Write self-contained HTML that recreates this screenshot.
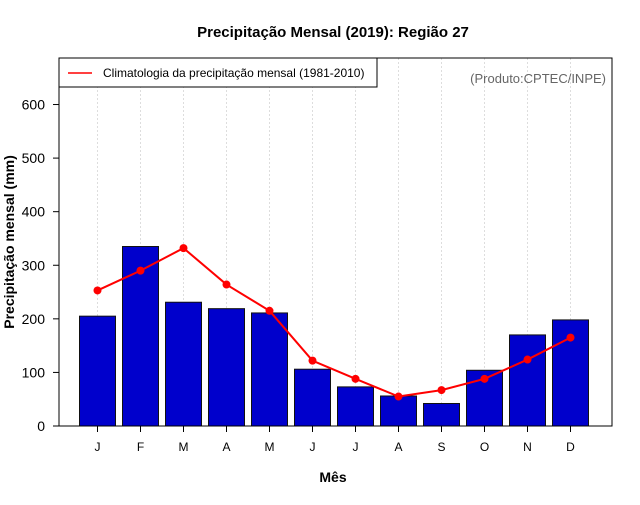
<!DOCTYPE html>
<html><head><meta charset="utf-8"><style>
body{margin:0;background:#fff;}
svg text{font-family:"Liberation Sans",sans-serif;}
</style></head><body>
<svg id="c" width="640" height="500" xmlns="http://www.w3.org/2000/svg">
<text x="333" y="37" text-anchor="middle" font-size="15" font-weight="bold">Precipitação Mensal (2019): Região 27</text>
<text x="333" y="482" text-anchor="middle" font-size="14" font-weight="bold">Mês</text>
<text transform="translate(14,242) rotate(-90)" text-anchor="middle" font-size="14" font-weight="bold">Precipitação mensal (mm)</text>
<g id="grid"></g><g id="bars"></g><g id="line"></g><g id="axes"></g>
<rect x="59" y="58" width="553" height="368" fill="none" stroke="#000"/>
<g>
<rect x="59" y="58" width="318" height="29" fill="#fff" stroke="#000"/>
<line x1="68" y1="73" x2="92" y2="73" stroke="red" stroke-width="1.5"/>
<text x="103" y="77" font-size="12">Climatologia da precipitação mensal (1981-2010)</text>
</g>
<text x="606" y="83" text-anchor="end" font-size="13" fill="#666">(Produto:CPTEC/INPE)</text>
</svg>
<script>
const months=["J","F","M","A","M","J","J","A","S","O","N","D"];
const precip=[205,335,231,219,211,106,73,56,42,104,170,198];
const climatology=[253,290,332,264,215,122,88,55,67,88,124,165];
const yTicks=[0,100,200,300,400,500,600];
const NS="http://www.w3.org/2000/svg";
const x=i=>97.5+i*43;
const y=v=>426-v*0.5358;
function mk(p,t,a){const e=document.createElementNS(NS,t);for(const k in a)e.setAttribute(k,a[k]);document.getElementById(p).appendChild(e);return e;}
months.forEach((m,i)=>{
 const g=mk("grid","line",{x1:x(i),x2:x(i),y1:58,y2:426,stroke:"#ddd","stroke-dasharray":"2,2"});
 
 
 const b=mk("bars","rect",{x:x(i)-18,y:y(precip[i]),width:36,height:426-y(precip[i]),fill:"#0000cc",stroke:"#111","stroke-width":1});
 
 
 const t=mk("axes","line",{x1:x(i),x2:x(i),y1:426,y2:432,stroke:"#000"});
 
 
 const l=mk("axes","text",{x:x(i),y:451,"text-anchor":"middle","font-size":12});
 l.textContent=m;
 
 
});
const pl=mk("line","polyline",{points:climatology.map((v,i)=>x(i)+","+y(v)).join(" "),fill:"none",stroke:"red","stroke-width":2});


climatology.forEach((v,i)=>{
 const c=mk("line","circle",{cx:x(i),cy:y(v),r:4,fill:"red"});
 
 
});
yTicks.forEach(v=>{
 const t=mk("axes","line",{x1:53,x2:59,y1:y(v),y2:y(v),stroke:"#000"});
 
 
 const l=mk("axes","text",{x:45,y:y(v)+5,"text-anchor":"end","font-size":14});
 l.textContent=v;
 
 
});
</script>
</body></html>
